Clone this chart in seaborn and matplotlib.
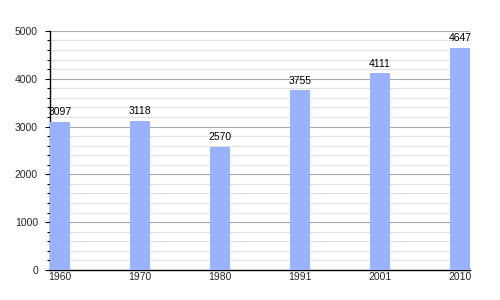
import matplotlib
matplotlib.use("Agg")
import matplotlib.pyplot as plt
import seaborn as sns
import pandas as pd
from matplotlib.ticker import MultipleLocator

years = ["1960", "1970", "1980", "1991", "2001", "2010"]
population = [3097, 3118, 2570, 3755, 4111, 4647]

sns.set_theme(style="white")
plt.rcParams['font.family'] = ['Liberation Sans', 'DejaVu Sans']

df = pd.DataFrame({"year": years, "pop": population})
fig = plt.figure(figsize=(5, 3), dpi=100)
ax = fig.add_axes([0.1, 0.1, 0.84, 0.797])
sns.barplot(data=df, x="year", y="pop", color="#99b2ff", saturation=1, width=0.25,
            linewidth=0, edgecolor="none", ax=ax, zorder=3)
for i, v in enumerate(population):
    ax.text(i, v + 100, str(v), ha="center", va="bottom", fontsize=7.5, color="black", zorder=4)

ax.set_xlim(-0.125, 5.125)
ax.set_ylim(0, 5000)
ax.yaxis.set_major_locator(MultipleLocator(1000))
ax.yaxis.set_minor_locator(MultipleLocator(200))
ax.grid(which="major", axis="y", color="#aaaaaa", linewidth=0.8, zorder=0)
ax.grid(which="minor", axis="y", color="#e0e0e0", linewidth=0.8, zorder=0)
ax.set_axisbelow(True)
for s in ["top", "right"]:
    ax.spines[s].set_visible(False)
for s in ["left", "bottom"]:
    ax.spines[s].set_color("black")
    ax.spines[s].set_linewidth(1)
ax.tick_params(axis="y", which="major", left=True, length=3.6, width=0.8, color="black", labelsize=7.5, pad=5)
ax.tick_params(axis="y", which="minor", left=True, length=2.2, width=0.8, color="black")
ax.tick_params(axis="x", bottom=False, length=0, labelsize=7.5, pad=1.5)
ax.set_xlabel("")
ax.set_ylabel("")
fig.savefig("out.png", dpi=100)
